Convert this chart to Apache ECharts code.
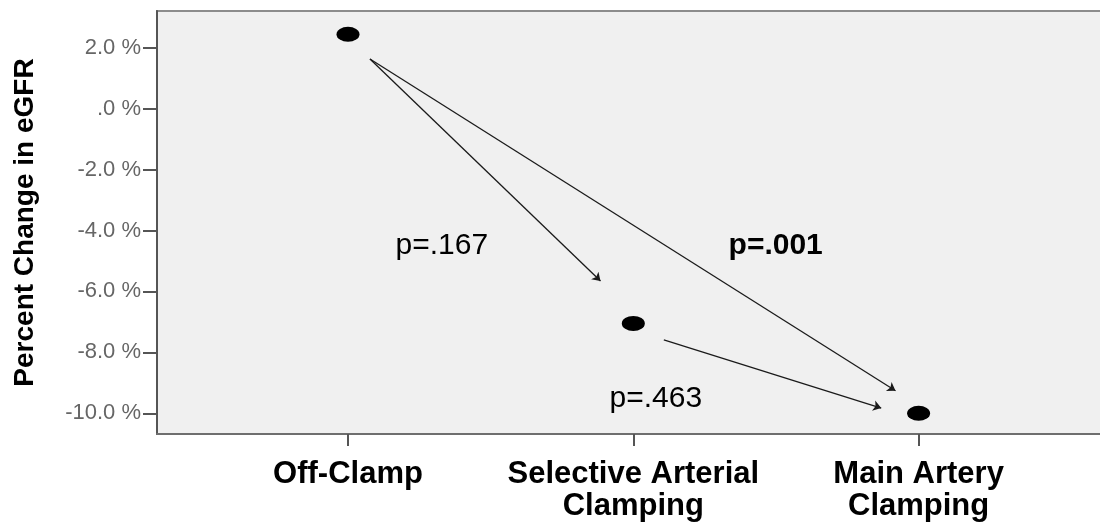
<!DOCTYPE html>
<html><head><meta charset="utf-8">
<script src="https://cdn.jsdelivr.net/npm/echarts@6/dist/echarts.min.js"></script>
<style>html,body{margin:0;padding:0;background:#fff}#c{width:1100px;height:525px}</style>
</head><body><div id="c"></div>
<script>
// Data
var categories = ['Off-Clamp', 'Selective Arterial\nClamping', 'Main Artery\nClamping'];
var meanChange = [2.44, -7.05, -10.0];
var yTicks = [-10, -8, -6, -4, -2, 0, 2];
// arrows: [x0, y0, x1, y1] in data coordinates (x = category index)
var arrows = [
  [0.077, 1.63, 0.885, -5.66],
  [0.077, 1.63, 1.919, -9.26],
  [1.107, -7.59, 1.869, -9.83]
];
var pLabels = ['p=.167', 'p=.001', 'p=.463'];
var pLabelX = [0.329, 1.499, 1.079];
var pLabelY = [-4.51, -4.49, -9.51];
var pLabelBold = [false, true, false];

function fmtY(v) {
  var s = Math.abs(v).toFixed(1);
  if (s.charAt(0) === '0') s = s.substring(1);
  return (v < 0 ? '-' : '') + s + ' %';
}

var chart = echarts.init(document.getElementById('c'));
var font = 'Liberation Sans, Arial, sans-serif';
chart.setOption({
  animation: false,
  grid: {
    left: 157, right: -2, top: 11, bottom: 91,
    outerBoundsMode: 'none', containLabel: false,
    show: true, backgroundColor: '#f0f0f0', borderColor: '#8c8c8c', borderWidth: 2
  },
  xAxis: {
    type: 'value', min: -0.6695, max: 2.6428,
    splitLine: { show: false },
    axisLine: { show: true, onZero: false, lineStyle: { color: '#6e6e6e', width: 2 } },
    axisTick: { show: true, customValues: [0, 1, 2], length: 12, lineStyle: { color: '#555', width: 2 } },
    axisLabel: {
      customValues: [0, 1, 2], margin: 24,
      formatter: function (v) { return categories[Math.round(v)]; },
      color: '#000', fontFamily: font, fontWeight: 'bold', fontSize: 31, lineHeight: 32
    }
  },
  yAxis: {
    type: 'value', min: -10.68, max: 3.204,
    splitLine: { show: false },
    axisLine: { show: true, onZero: false, lineStyle: { color: '#555', width: 2 } },
    axisTick: { show: true, customValues: yTicks, length: 14, lineStyle: { color: '#555', width: 2 } },
    axisLabel: {
      customValues: yTicks, margin: 16, formatter: fmtY,
      color: '#666', fontFamily: font, fontSize: 22
    },
    name: 'Percent Change in eGFR', nameLocation: 'middle', nameGap: 118,
    nameTextStyle: { color: '#000', fontFamily: font, fontWeight: 'bold', fontSize: 28 }
  },
  series: [
    {
      type: 'scatter', symbol: 'circle', symbolSize: [23, 15],
      itemStyle: { color: '#000', opacity: 1 },
      data: meanChange.map(function (v, i) { return [i, v]; }),
      z: 5
    },
    {
      type: 'lines', coordinateSystem: 'cartesian2d',
      symbol: ['none', 'arrow'], symbolSize: 8,
      lineStyle: { color: '#1a1a1a', width: 1.3, opacity: 1 },
      data: arrows.map(function (a) { return { coords: [[a[0], a[1]], [a[2], a[3]]] }; }),
      z: 4
    },
    {
      type: 'scatter', symbolSize: 0, silent: true,
      itemStyle: { opacity: 1 },
      data: pLabels.map(function (t, i) {
        return {
          value: [pLabelX[i], pLabelY[i]],
          label: {
            show: true, position: 'inside', formatter: t, opacity: 1,
            color: '#000', fontFamily: font, fontSize: 30,
            fontWeight: pLabelBold[i] ? 'bold' : 'normal'
          }
        };
      }),
      z: 6
    }
  ]
});
</script></body></html>
